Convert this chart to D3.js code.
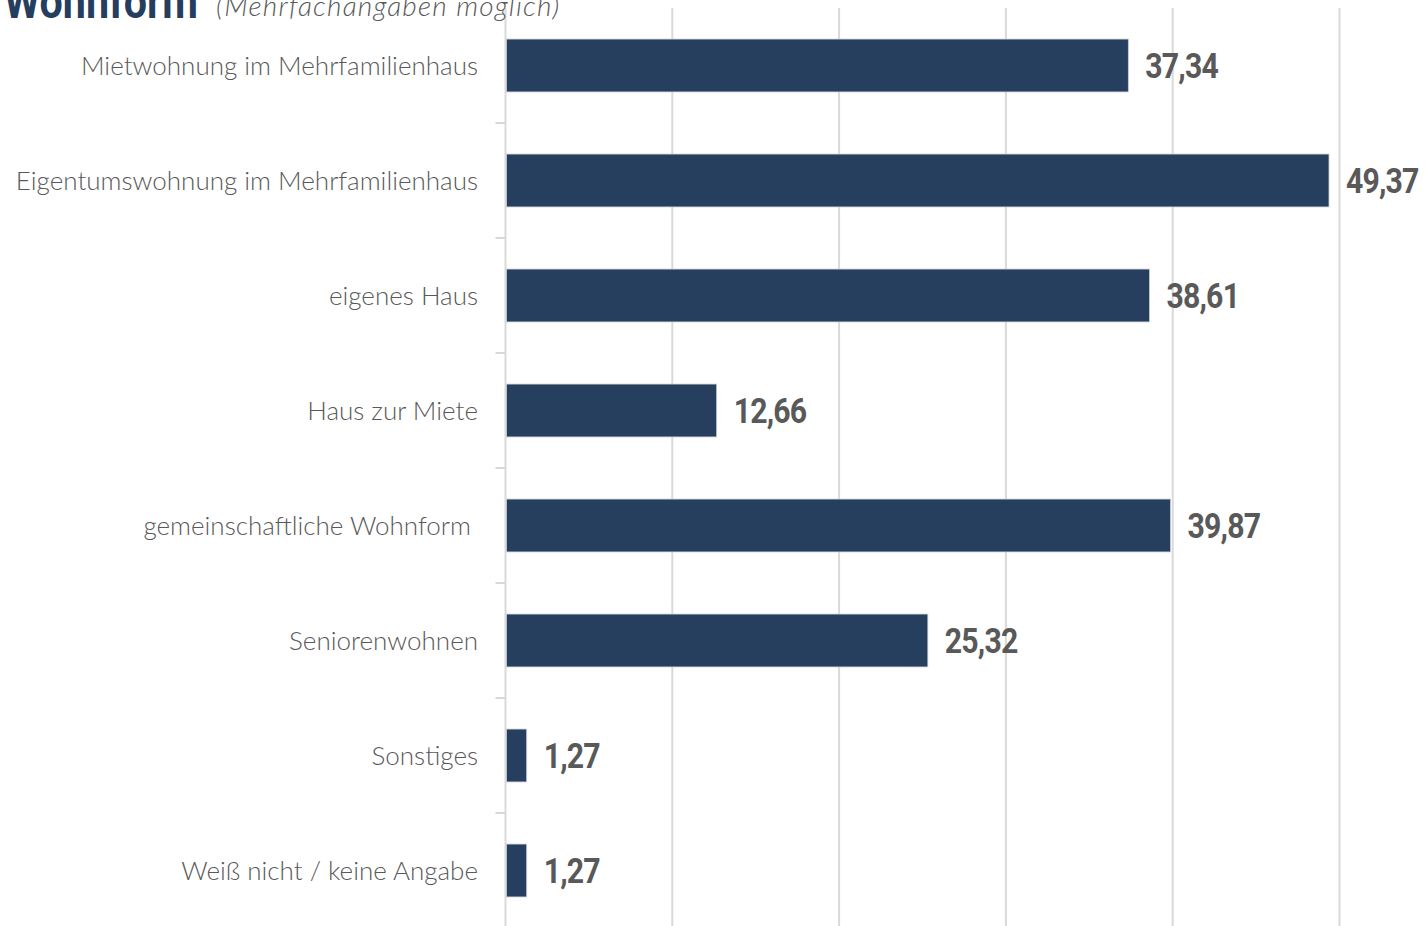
<!DOCTYPE html>
<html>
<head>
<meta charset="utf-8">
<script src="https://cdn.jsdelivr.net/npm/d3@7"></script>
<style>
  html, body { margin: 0; padding: 0; background: #fff; }
  svg { display: block; }
</style>
</head>
<body>
<svg id="chart" width="1426" height="926"></svg>
<script>
const categories = [
  "Mietwohnung im Mehrfamilienhaus",
  "Eigentumswohnung im Mehrfamilienhaus",
  "eigenes Haus",
  "Haus zur Miete",
  "gemeinschaftliche Wohnform\u00A0",
  "Seniorenwohnen",
  "Sonstiges",
  "Weiß nicht / keine Angabe"
];
const values = [37.34, 49.37, 38.61, 12.66, 39.87, 25.32, 1.27, 1.27];
const gridTicks = [0, 10, 20, 30, 40, 50];
const titleMain = "Wohnform";
const titleSub = "(Mehrfachangaben möglich)";

const svg = d3.select("#chart");
const W = 1426, H = 926;
const x0 = 505.5, unit = 16.68;
const xDomainMax = 55;

const x = d3.scaleLinear().domain([0, xDomainMax]).range([x0, x0 + xDomainMax * unit]);
const y = d3.scaleBand().domain(categories).range([8, 928]).paddingInner(0.54).paddingOuter(0.27);

const fmt = v => d3.format(".2f")(v).replace(".", ",");

// gridlines
svg.append("g").selectAll("line").data(gridTicks.slice(1)).join("line")
  .attr("x1", d => x(d)).attr("x2", d => x(d))
  .attr("y1", 8).attr("y2", H)
  .attr("stroke", "#d9d9d9").attr("stroke-width", 2);

// y axis line
svg.append("line").attr("x1", x(0)).attr("x2", x(0)).attr("y1", 8).attr("y2", H)
  .attr("stroke", "#d9d9d9").attr("stroke-width", 2);

// tick marks at band boundaries
const step = y.step();
const bounds = categories.slice(1).map(c => y(c) - y.paddingInner() * step / 2);
svg.append("g").selectAll("line").data(bounds).join("line")
  .attr("x1", x(0) - 10).attr("x2", x(0))
  .attr("y1", d => d).attr("y2", d => d)
  .attr("stroke", "#d9d9d9").attr("stroke-width", 2);

// bars
svg.append("g").selectAll("rect").data(values).join("rect")
  .attr("x", x(0) + 1)
  .attr("y", (d, i) => y(categories[i]))
  .attr("width", d => x(d) - x(0) - 1)
  .attr("height", y.bandwidth())
  .attr("fill", "#263f5e")
  .attr("stroke", "#c9ced6").attr("stroke-width", 0.8);

// category labels
svg.append("g").selectAll("text").data(categories).join("text")
  .attr("x", 478)
  .attr("y", d => y(d) + y.bandwidth() / 2)
  .attr("dy", "0.35em")
  .attr("text-anchor", "end")
  .attr("font-family", "Lato, 'Open Sans', sans-serif")
  .attr("font-weight", 300)
  .attr("font-size", 26)
  .attr("letter-spacing", 0)
  .attr("fill", "#595959")
  .style("white-space", "pre")
  .text(d => d);

// value labels (condensed look via horizontal scaling)
svg.append("g").selectAll("g").data(values).join("g")
  .attr("transform", (d, i) => `translate(${x(d) + 17},${y(categories[i]) + y.bandwidth() / 2}) scale(0.84,1)`)
  .append("text")
  .attr("dy", "0.36em")
  .attr("font-family", "Roboto, sans-serif")
  .attr("font-weight", 700)
  .attr("font-size", 36)
  .attr("letter-spacing", -1)
  .attr("fill", "#595959")
  .text(d => fmt(d));

// title
svg.append("g").attr("transform", "translate(4,18) scale(0.86,1)")
  .append("text")
  .attr("font-family", "Roboto, sans-serif")
  .attr("font-weight", 700)
  .attr("font-size", 48)
  .attr("fill", "#253d5e")
  .text(titleMain);
svg.append("text")
  .attr("x", 216).attr("y", 16)
  .attr("font-family", "Lato, sans-serif")
  .attr("font-weight", 300)
  .attr("font-style", "italic")
  .attr("font-size", 28)
  .attr("letter-spacing", 1.2)
  .attr("fill", "#595959")
  .text(titleSub);
</script>
</body>
</html>
